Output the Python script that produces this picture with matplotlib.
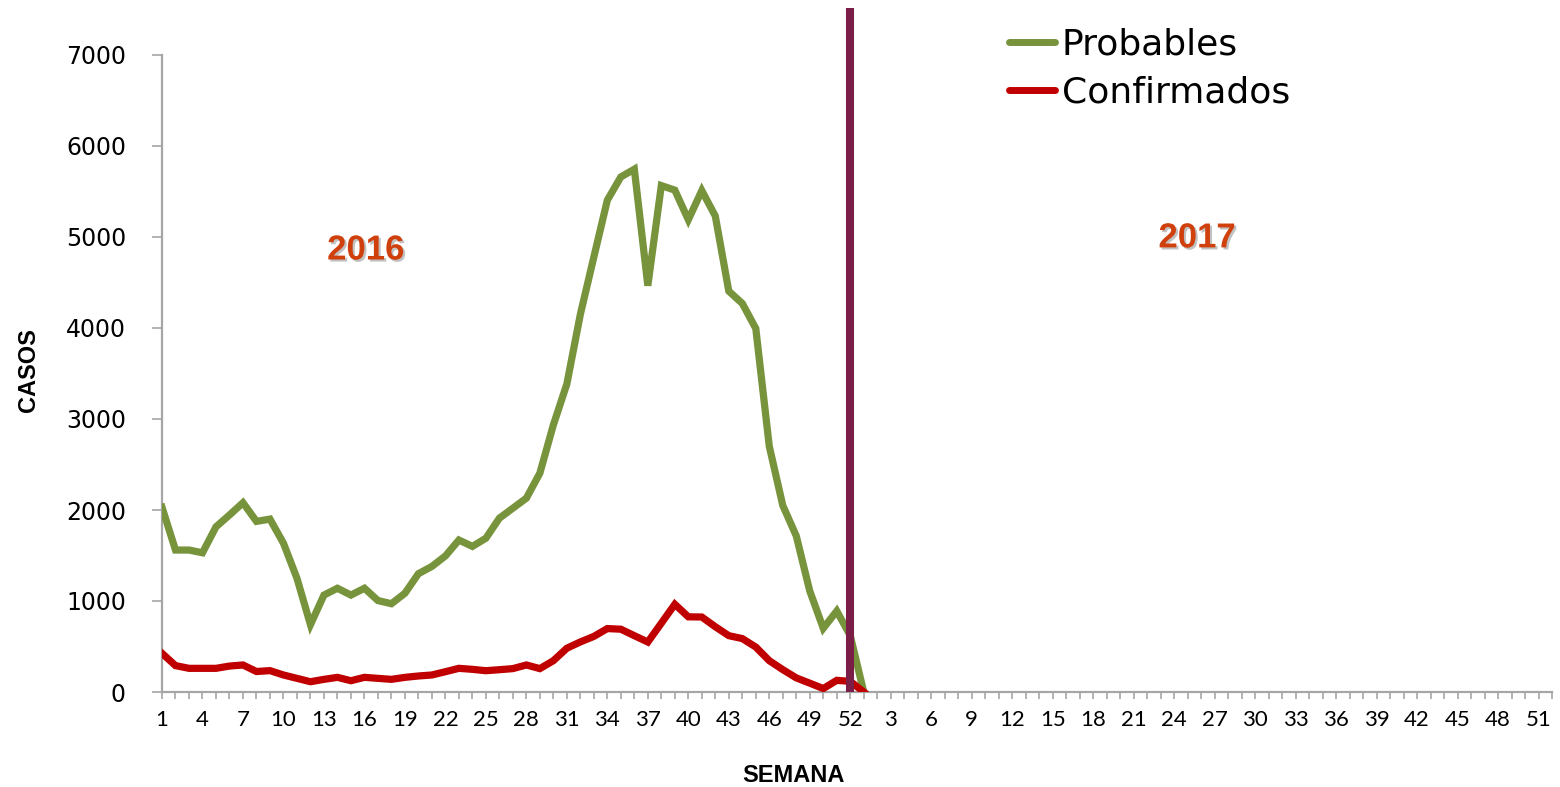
import numpy as np
import matplotlib.pyplot as plt
import matplotlib.patheffects as pe

# =============================================================
#  DATA  (weekly cases, 2016 weeks 1-52 + 2017 week 1)
# =============================================================
weeks_2016 = list(range(1, 53))
weeks_2017 = list(range(1, 53))
week_labels = [str(w) for w in weeks_2016 + weeks_2017]

probables = [2030, 1560, 1560, 1530, 1815, 1945, 2080, 1875, 1900, 1635,
             1250, 740, 1065, 1140, 1065, 1140, 1005, 970, 1085, 1300,
             1380, 1495, 1670, 1600, 1690, 1910, 2020, 2130, 2405, 2935,
             3385, 4150, 4780, 5405, 5660, 5745, 4465, 5565, 5515, 5190,
             5510, 5230, 4405, 4270, 3995, 2700, 2050, 1715, 1110, 700,
             890, 620, 0]

confirmados = [425, 290, 260, 260, 260, 285, 297, 225, 235, 187,
               150, 113, 139, 161, 124, 161, 150, 139, 161, 176,
               187, 223, 260, 249, 234, 245, 257, 297, 257, 344,
               481, 550, 611, 697, 690, 619, 549, 756, 964, 826,
               824, 717, 619, 587, 494, 344, 246, 155, 97, 38,
               128, 117, 0]

year_labels = ['2016', '2017']
split_week = 52          # last week of 2016

# =============================================================
#  STYLE
# =============================================================
GREEN = '#77933C'
RED = '#C00000'
PURPLE = '#7A1E48'
YEAR_COLOR = '#D0400C'
AXIS_GRAY = '#A6A6A6'

fig = plt.figure(figsize=(15.6, 7.87), dpi=100)
ax = fig.add_axes([162 / 1560, 95 / 787, 1390 / 1560, 637 / 787])

x = np.arange(len(week_labels))
n = len(probables)

ax.plot(x[:n], probables, color=GREEN, lw=5.2, solid_joinstyle='miter',
        label='Probables', zorder=3)
ax.plot(x[:n], confirmados, color=RED, lw=5.2, solid_joinstyle='miter',
        label='Confirmados', zorder=3)

# separator between years (runs up past the plot area)
sx = split_week - 1
ax.plot([sx, sx], [0, 7516], color=PURPLE, lw=5.8, clip_on=False,
        solid_capstyle='butt', zorder=4)

ax.set_xlim(0, len(week_labels) - 1)
ax.set_ylim(0, 7000)

# axes look
for s in ['top', 'right']:
    ax.spines[s].set_visible(False)
for s in ['left', 'bottom']:
    ax.spines[s].set_color(AXIS_GRAY)
    ax.spines[s].set_linewidth(1.6)

ax.set_yticks(np.arange(0, 7001, 1000))
ax.tick_params(axis='y', direction='out', length=7, width=1.2,
               color=AXIS_GRAY, pad=19, labelsize=17)
for lab in ax.get_yticklabels():
    lab.set_fontfamily('DejaVu Sans')

ax.set_xticks(x, minor=True)
ax.set_xticks(x[::3])
ax.set_xticklabels(week_labels[::3], fontfamily='Lato', fontsize=16)
ax.tick_params(axis='x', which='both', direction='out', length=5, width=1.2,
               color=AXIS_GRAY, pad=8)

fig.text(29 / 1560, 1 - 370 / 787, 'CASOS', rotation=90, ha='center',
         va='center', fontsize=17, fontweight='bold',
         fontfamily='Liberation Sans')
fig.text(793 / 1560, 1 - 775 / 787, 'SEMANA', ha='center', va='center',
         fontsize=17, fontweight='bold', fontfamily='Liberation Sans')

shadow = [pe.SimplePatchShadow(offset=(1.5, -1.5), shadow_rgbFace='#999999',
                               alpha=0.6), pe.Normal()]
ax.text(15.1, 4857, year_labels[0], ha='center', va='center', fontsize=25,
        fontweight='bold', color=YEAR_COLOR, fontfamily='Liberation Sans',
        path_effects=shadow)
ax.text(76.7, 4990, year_labels[1], ha='center', va='center', fontsize=25,
        fontweight='bold', color=YEAR_COLOR, fontfamily='Liberation Sans',
        path_effects=shadow)

leg = ax.legend(loc='upper left', bbox_to_anchor=(995 / 1560, 1 - 13 / 787),
                bbox_transform=fig.transFigure, frameon=False,
                prop={'family': 'DejaVu Sans', 'size': 26},
                handlelength=1.25, handletextpad=0.2, labelspacing=0.38,
                borderaxespad=0)
for h in leg.get_lines():
    h.set_linewidth(5)
    h.set_solid_capstyle('round')

fig.savefig('out.png', dpi=100)
